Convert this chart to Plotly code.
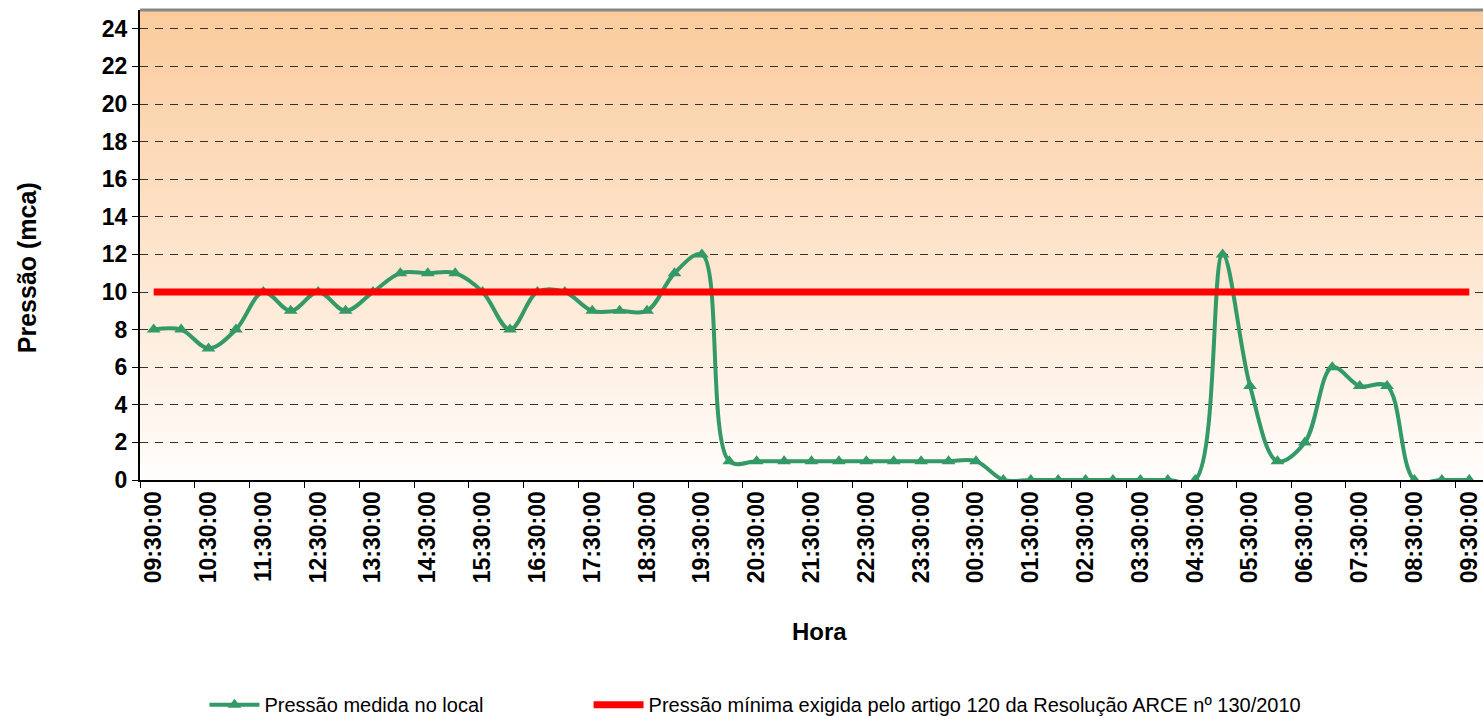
import plotly.graph_objects as go

# ---- data ----
times = ["09:30:00", "10:00:00", "10:30:00", "11:00:00", "11:30:00", "12:00:00", "12:30:00",
         "13:00:00", "13:30:00", "14:00:00", "14:30:00", "15:00:00", "15:30:00", "16:00:00",
         "16:30:00", "17:00:00", "17:30:00", "18:00:00", "18:30:00", "19:00:00", "19:30:00",
         "20:00:00", "20:30:00", "21:00:00", "21:30:00", "22:00:00", "22:30:00", "23:00:00",
         "23:30:00", "00:00:00", "00:30:00", "01:00:00", "01:30:00", "02:00:00", "02:30:00",
         "03:00:00", "03:30:00", "04:00:00", "04:30:00", "05:00:00", "05:30:00", "06:00:00",
         "06:30:00", "07:00:00", "07:30:00", "08:00:00", "08:30:00", "09:00:00", "09:30:00 "]
pressao = [8, 8, 7, 8, 10, 9, 10, 9, 10, 11, 11, 11, 10, 8, 10, 10, 9, 9, 9, 11, 12,
           1, 1, 1, 1, 1, 1, 1, 1, 1, 1, 0, 0, 0, 0, 0, 0, 0, 0, 12, 5, 1, 2, 6, 5, 5, 0, 0, 0]
minima = [10] * len(times)
tick_vals = times[::2]
tick_text = [t.strip() for t in tick_vals]

name_medida = "Pressão medida no local"
name_minima = "Pressão mínima exigida pelo artigo 120 da Resolução ARCE nº 130/2010"
x_title = "Hora"
y_title = "Pressão (mca)"

fig = go.Figure()
fig.add_trace(go.Scatter(
    x=times, y=pressao, mode="lines+markers", name=name_medida, legend="legend",
    line=dict(color="#339966", width=4, shape="spline", smoothing=1.0),
    marker=dict(symbol="triangle-up", size=12, color="#339966"),
))
fig.add_trace(go.Scatter(
    x=times, y=minima, mode="lines", name=name_minima, legend="legend2",
    line=dict(color="#FF0000", width=7),
))

# gradient background bands
n = 80
top = (251, 203, 157)
bot = (255, 253, 251)
shapes = []
for i in range(n):
    f = i / (n - 1)
    c = tuple(round(bot[k] + (top[k] - bot[k]) * f) for k in range(3))
    shapes.append(dict(type="rect", xref="paper", yref="paper",
                       x0=0, x1=1, y0=i / n, y1=(i + 1) / n + 0.002,
                       fillcolor="rgb(%d,%d,%d)" % c, line=dict(width=0), layer="below"))
shapes.append(dict(type="line", xref="paper", yref="paper", x0=0, x1=1, y0=1, y1=1,
                   line=dict(color="#888888", width=3)))

leg_font = dict(size=20, family="Liberation Sans, Arial, sans-serif", color="black")
fig.update_layout(
    width=1483, height=716,
    margin=dict(l=140, r=0, t=10, b=236, autoexpand=False),
    paper_bgcolor="white", plot_bgcolor="white",
    font=dict(family="Liberation Sans, Arial, sans-serif", color="black"),
    shapes=shapes,
    showlegend=True,
    legend=dict(orientation="h", x=0.048, y=-0.478, xanchor="left", yanchor="middle",
                font=leg_font, bgcolor="rgba(0,0,0,0)", itemwidth=50),
    legend2=dict(orientation="h", x=0.334, y=-0.478, xanchor="left", yanchor="middle",
                 font=leg_font, bgcolor="rgba(0,0,0,0)", itemwidth=50),
    annotations=[
        dict(text="<b>%s</b>" % x_title, xref="paper", yref="paper", x=0.506, y=-0.323,
             xanchor="center", yanchor="middle", showarrow=False, font=dict(size=24)),
        dict(text="<b>%s</b>" % y_title, xref="paper", yref="paper", x=-0.084, y=0.451,
             xanchor="center", yanchor="middle", showarrow=False, textangle=-90,
             font=dict(size=25)),
    ],
)
fig.update_xaxes(
    type="category", categoryorder="array", categoryarray=times,
    range=[-0.5, len(times) - 0.5],
    tickmode="array", tickvals=tick_vals, ticktext=tick_text,
    tickangle=-90, tickfont=dict(size=23, family="Liberation Sans, Arial", weight="bold"),
    ticks="outside", ticklen=6, tickcolor="black", tickson="boundaries",
    showline=True, linecolor="black", linewidth=2, mirror=False,
    showgrid=False, zeroline=False,
)
fig.update_yaxes(
    range=[0, 25], dtick=2, tick0=0,
    tickfont=dict(size=23, family="Liberation Sans, Arial", weight="bold"),
    ticks="outside", ticklen=6, tickcolor="black",
    showline=True, linecolor="black", linewidth=2,
    showgrid=True, gridcolor="#333333", gridwidth=1, griddash="8px,7px",
    zeroline=False,
)

fig.write_html(
    "out.html",
    config={"displayModeBar": False},
    post_script="document.body.style.margin='0';document.body.style.overflow='hidden';",
)
